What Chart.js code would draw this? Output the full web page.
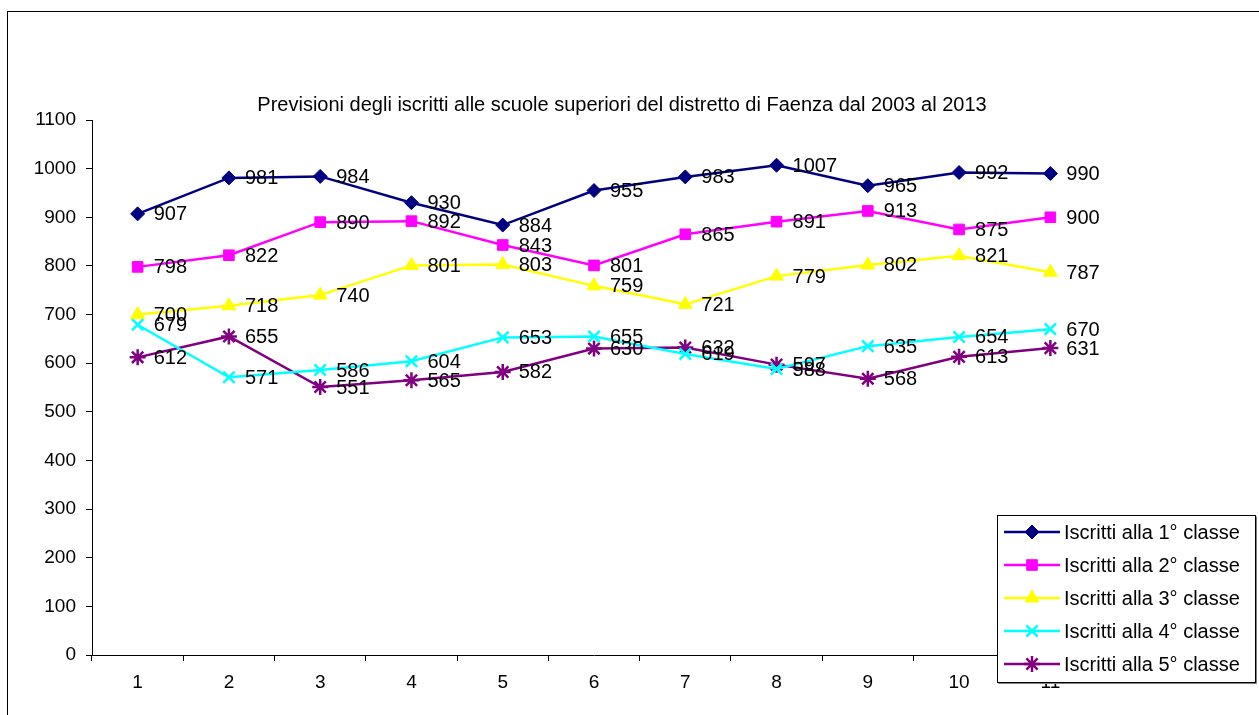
<!DOCTYPE html>
<html>
<head>
<meta charset="utf-8">
<script src="https://cdn.jsdelivr.net/npm/chart.js@4/dist/chart.umd.min.js"></script>
<style>
  html, body { margin: 0; padding: 0; background: #fff; }
  #wrap { width: 1259px; height: 715px; position: relative; }
</style>
</head>
<body>
<div id="wrap"><canvas id="c" width="1259" height="715"></canvas></div>
<script>
const titleText = 'Previsioni degli iscritti alle scuole superiori del distretto di Faenza dal 2003 al 2013';
const categories = ['1', '2', '3', '4', '5', '6', '7', '8', '9', '10', '11'];
const seriesNames = [
  'Iscritti alla 1° classe',
  'Iscritti alla 2° classe',
  'Iscritti alla 3° classe',
  'Iscritti alla 4° classe',
  'Iscritti alla 5° classe'
];
const classe1 = [907, 981, 984, 930, 884, 955, 983, 1007, 965, 992, 990];
const classe2 = [798, 822, 890, 892, 843, 801, 865, 891, 913, 875, 900];
const classe3 = [700, 718, 740, 801, 803, 759, 721, 779, 802, 821, 787];
const classe4 = [679, 571, 586, 604, 653, 655, 619, 588, 635, 654, 670];
const classe5 = [612, 655, 551, 565, 582, 630, 632, 597, 568, 613, 631];
const yTicks = { min: 0, max: 1100, step: 100 };

const colors = ['#000080', '#FF00FF', '#FFFF00', '#00FFFF', '#800080'];
const shapes = ['rectRot', 'rect', 'triangle', 'crossRot', 'star'];
const radii = [7, 7.5, 8, 8, 8];
const values = [classe1, classe2, classe3, classe4, classe5];
const FONT = '"Liberation Sans", Arial, sans-serif';

const datasets = values.map((v, i) => ({
  label: seriesNames[i],
  data: v,
  borderColor: colors[i],
  backgroundColor: colors[i],
  borderWidth: 2.5,
  pointStyle: shapes[i],
  pointRadius: radii[i],
  pointHoverRadius: radii[i],
  pointBorderWidth: (shapes[i] === 'crossRot' || shapes[i] === 'star') ? 2.5 : 1,
  pointBorderColor: colors[i],
  pointBackgroundColor: colors[i],
  tension: 0
}));

function drawMarker(ctx, ds, x, y) {
  ctx.save();
  ctx.fillStyle = ds.borderColor;
  ctx.strokeStyle = ds.borderColor;
  ctx.lineWidth = ds.pointBorderWidth;
  Chart.helpers.drawPoint(ctx, {
    pointStyle: ds.pointStyle,
    radius: ds.pointRadius,
    borderWidth: ds.pointBorderWidth,
    rotation: 0
  }, x, y);
  ctx.restore();
}

// Outer frame, title, value labels and legend
const decor = {
  id: 'decor',
  beforeDraw(chart) {
    const ctx = chart.ctx;
    ctx.save();
    ctx.fillStyle = '#fff';
    ctx.fillRect(0, 0, chart.width, chart.height);
    ctx.strokeStyle = '#000';
    ctx.lineWidth = 1;
    ctx.strokeRect(7.5, 11.5, 1400, 900);
    ctx.restore();
  },
  afterDatasetsDraw(chart) {
    const ctx = chart.ctx;
    ctx.save();
    // title
    ctx.fillStyle = '#000';
    ctx.font = '20px ' + FONT;
    ctx.textAlign = 'center';
    ctx.textBaseline = 'middle';
    ctx.fillText(titleText, 622, 105);
    // value labels
    ctx.font = '20px ' + FONT;
    ctx.textAlign = 'left';
    chart.data.datasets.forEach((ds, di) => {
      const meta = chart.getDatasetMeta(di);
      meta.data.forEach((pt, j) => {
        ctx.fillText(String(ds.data[j]), pt.x + 16, pt.y + 1);
      });
    });
    // legend
    const lx = 997, ly = 515, lw = 258, lh = 167;
    ctx.fillStyle = '#fff';
    ctx.fillRect(lx, ly, lw, lh);
    ctx.strokeStyle = '#000';
    ctx.lineWidth = 1;
    ctx.strokeRect(lx + 0.5, ly + 0.5, lw, lh);
    ctx.strokeStyle = '#808080';
    ctx.beginPath();
    ctx.moveTo(lx + 1.5, ly + lh + 1.5);
    ctx.lineTo(lx + lw + 1.5, ly + lh + 1.5);
    ctx.lineTo(lx + lw + 1.5, ly + 1.5);
    ctx.stroke();
    chart.data.datasets.forEach((ds, i) => {
      const y = ly + 17 + i * 33;
      ctx.strokeStyle = ds.borderColor;
      ctx.lineWidth = 2.5;
      ctx.beginPath();
      ctx.moveTo(lx + 7, y);
      ctx.lineTo(lx + 63, y);
      ctx.stroke();
      drawMarker(ctx, ds, lx + 35, y);
      ctx.fillStyle = '#000';
      ctx.font = '20px ' + FONT;
      ctx.textAlign = 'left';
      ctx.textBaseline = 'middle';
      ctx.fillText(ds.label, lx + 67, y + 1);
    });
    ctx.restore();
  }
};

new Chart(document.getElementById('c'), {
  type: 'line',
  data: { labels: categories, datasets },
  options: {
    responsive: false,
    animation: false,
    events: [],
    layout: { padding: { left: 0, right: 163, top: 120, bottom: 0 } },
    plugins: { legend: { display: false }, title: { display: false }, tooltip: { enabled: false } },
    scales: {
      x: {
        type: 'category',
        offset: true,
        border: { color: '#000', width: 1 },
        grid: { display: true, offset: true, drawOnChartArea: false, drawTicks: true, tickLength: 6, color: '#000' },
        ticks: { color: '#000', font: { family: FONT, size: 19 }, padding: 10, maxRotation: 0 },
        afterFit(s) { s.height = 60; }
      },
      y: {
        min: yTicks.min,
        max: yTicks.max,
        border: { color: '#000', width: 1 },
        grid: { display: true, drawOnChartArea: false, drawTicks: true, tickLength: 6, color: '#000' },
        ticks: {
          stepSize: yTicks.step,
          color: '#000',
          font: { family: FONT, size: 19 },
          padding: 10,
          callback: (v) => String(v)
        },
        afterFit(s) { s.width = 92; }
      }
    }
  },
  plugins: [decor]
});
</script>
</body>
</html>
